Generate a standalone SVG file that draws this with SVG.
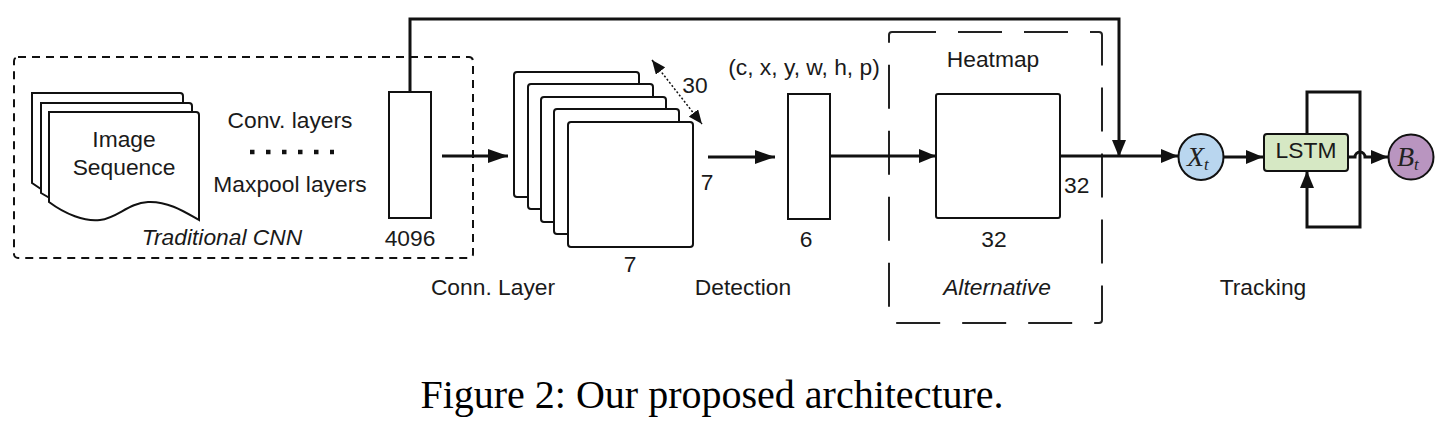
<svg xmlns="http://www.w3.org/2000/svg" width="1443" height="424" viewBox="0 0 1443 424">
<defs>
<style>
.t{font-family:"Liberation Sans",Arial,sans-serif;font-size:22.8px;fill:#1a1a1a}
.c{text-anchor:middle}
.i{font-style:italic}
.box{fill:#fff;stroke:#111;stroke-width:2}
.ln{fill:none;stroke:#111;stroke-width:3}
.m{font-family:"Liberation Serif","Times New Roman",serif;font-style:italic;fill:#222}
</style>
<marker id="ah" markerUnits="userSpaceOnUse" markerWidth="20" markerHeight="14" refX="20" refY="7" orient="auto"><path d="M0,0 L20,7 L0,14 z" fill="#111"/></marker>
<marker id="as" markerUnits="userSpaceOnUse" markerWidth="17" markerHeight="14" refX="17" refY="7" orient="auto"><path d="M0,0 L17,7 L0,14 z" fill="#111"/></marker>
<marker id="ad" markerUnits="userSpaceOnUse" markerWidth="14" markerHeight="12" refX="14" refY="6" orient="auto"><path d="M0,0 L14,6 L0,12 z" fill="#111"/></marker>
<marker id="ads" markerUnits="userSpaceOnUse" markerWidth="14" markerHeight="12" refX="0" refY="6" orient="auto"><path d="M14,0 L0,6 L14,12 z" fill="#111"/></marker>
</defs>
<rect width="1443" height="424" fill="#fff"/>

<g id="cnn-group">
<rect x="14" y="57" width="459" height="201" rx="4" fill="none" stroke="#111" stroke-width="2" stroke-dasharray="8 6"/>
<text class="t c i" x="222" y="245">Traditional CNN</text>
</g>

<g id="image-sequence">
<path class="box" d="M32,93 H180 Q183,93 183,96 V201 C168,192 150,182 126,190 C102,200 85,204 68,200 C52,196 40,189 32,183 Z"/>
<path class="box" d="M41,103 H189 Q192,103 192,106 V210 C177,201 160,191 135,200 C111,210 94,213 77,209 C61,205 49,198 41,193 Z"/>
<path class="box" d="M49,112 H196 Q199,112 199,115 V220 C185,212 168,201 148,202 C128,203 118,218 100,220 C85,222 65,214 49,202 Z"/>
<text class="t c" x="124" y="147">Image</text>
<text class="t c" x="124" y="175">Sequence</text>
</g>

<g id="conv-layers">
<text class="t c" x="290" y="128">Conv. layers</text>
<line x1="250" y1="152" x2="334" y2="152" stroke="#111" stroke-width="4.5" stroke-dasharray="4.5 11.5"/>
<text class="t c" x="290" y="192">Maxpool layers</text>
</g>

<g id="fc4096">
<rect class="box" x="389" y="92" width="42" height="126"/>
<text class="t c" x="410" y="246">4096</text>
</g>

<g id="conn-layer">
<rect class="box" x="514" y="72" width="125" height="125" rx="3"/>
<rect class="box" x="528" y="84" width="125" height="125" rx="3"/>
<rect class="box" x="541" y="97" width="125" height="125" rx="3"/>
<rect class="box" x="554" y="109" width="125" height="125" rx="3"/>
<rect class="box" x="568" y="122" width="125" height="125" rx="3"/>
<line x1="652" y1="60" x2="702" y2="124" stroke="#111" stroke-width="1.5" stroke-dasharray="2 2" marker-start="url(#ads)" marker-end="url(#ad)"/>
<text class="t c" x="695" y="93">30</text>
<text class="t c" x="707" y="190">7</text>
<text class="t c" x="630" y="272">7</text>
<text class="t c" x="493" y="295">Conn. Layer</text>
</g>

<g id="detection">
<rect class="box" x="788" y="94" width="42" height="125"/>
<text class="t c" x="804" y="75">(c, x, y, w, h, p)</text>
<text class="t c" x="806" y="247">6</text>
<text class="t c" x="743" y="295">Detection</text>
</g>

<g id="heatmap">
<rect x="889" y="32" width="213" height="291" rx="3" fill="none" stroke="#222" stroke-width="2" stroke-dasharray="44 22"/>
<rect class="box" x="936" y="94" width="124" height="124" rx="2"/>
<text class="t c" x="993" y="67">Heatmap</text>
<text class="t" x="1064" y="193">32</text>
<text class="t c" x="994" y="247">32</text>
<text class="t c i" x="997" y="295">Alternative</text>
</g>

<g id="xt">
<ellipse cx="1201" cy="157" rx="22.5" ry="23" fill="#b9d6ef" stroke="#111" stroke-width="2"/>
<text class="m" x="1187" y="166" font-size="28">X<tspan font-size="17" dy="4">t</tspan></text>
</g>

<g id="lstm">
<rect x="1264" y="134" width="84" height="37" rx="3" fill="#d6e8c4" stroke="#111" stroke-width="2"/>
<text class="t c" x="1306" y="158">LSTM</text>
</g>

<g id="bt">
<circle cx="1411" cy="157" r="22.5" fill="#b995c0" stroke="#111" stroke-width="2"/>
<text class="m" x="1397" y="166" font-size="28">B<tspan font-size="17" dy="4">t</tspan></text>
</g>

<g id="tracking-label">
<text class="t c" x="1263" y="295">Tracking</text>
</g>

<g id="connectors">
<line class="ln" x1="442" y1="156" x2="508" y2="156" marker-end="url(#ah)"/>
<line class="ln" x1="708" y1="157" x2="775" y2="157" stroke-width="4" marker-end="url(#ah)"/>
<line class="ln" x1="830" y1="156" x2="936" y2="156" stroke-width="2.5" marker-end="url(#as)"/>
<line class="ln" x1="1060" y1="156" x2="1178" y2="156" stroke-width="2.5" marker-end="url(#as)"/>
<path class="ln" d="M410,92 V19 H1119 V157" marker-end="url(#as)"/>
<line class="ln" x1="1224" y1="157" x2="1263" y2="157" stroke-width="4" marker-end="url(#as)"/>
<path class="ln" d="M1307,134 V92 H1360 V227 H1307 V171" marker-end="url(#as)"/>
<path class="ln" d="M1348,157 H1355 a5,5 0 0 1 10,0 H1388" marker-end="url(#as)"/>
</g>

<text x="712" y="408" text-anchor="middle" font-family="'Liberation Serif','Times New Roman',serif" font-size="40" fill="#000">Figure 2: Our proposed architecture.</text>
</svg>
